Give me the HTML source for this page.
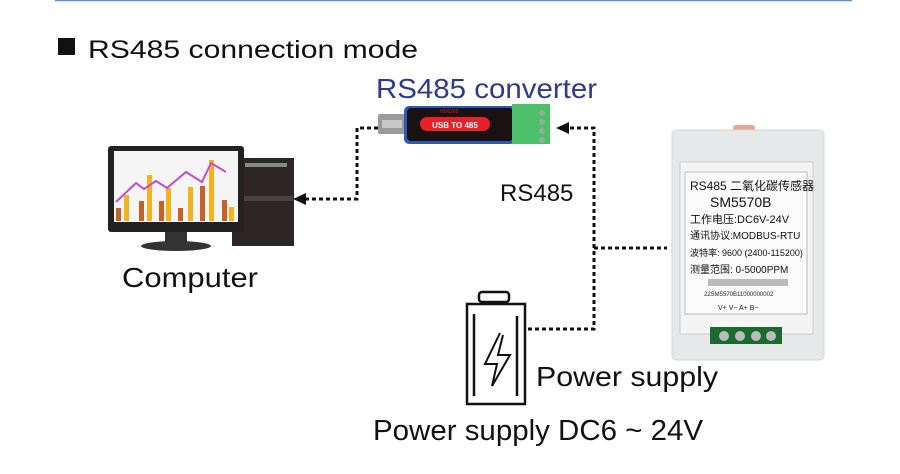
<!DOCTYPE html>
<html><head><meta charset="utf-8"><style>
html,body{margin:0;padding:0;background:#fff;width:900px;height:474px;overflow:hidden}
svg{display:block}
text{font-family:"Liberation Sans","Noto Sans CJK SC",sans-serif}
</style></head><body>
<svg width="900" height="474" viewBox="0 0 900 474" xmlns="http://www.w3.org/2000/svg">
<line x1="55" y1="0.5" x2="852" y2="0.5" stroke="#5b8fd6" stroke-width="1.5"/>
<rect x="58" y="38" width="17" height="17" fill="#111"/>
<text x="88" y="58" font-size="25" fill="#111" textLength="330" lengthAdjust="spacingAndGlyphs">RS485 connection mode</text>
<text x="376" y="98" font-size="28" fill="#2e3a8c" textLength="221" lengthAdjust="spacingAndGlyphs">RS485 converter</text>

<!-- converter -->
<rect x="378" y="114" width="28" height="20" fill="#9a9a9a" rx="2"/>
<rect x="382" y="120" width="20" height="8" fill="#c8c8c8"/>
<rect x="404" y="106" width="112" height="38" rx="5" fill="#2a5ab8"/>
<rect x="407" y="108" width="106" height="33" rx="4" fill="#1a1212"/>
<rect x="420" y="117" width="70" height="14" rx="7" fill="#e8202a"/>
<text x="455" y="128" font-size="8" fill="#fff" font-weight="bold" text-anchor="middle">USB TO 485</text>
<text x="440" y="113" font-size="5" fill="#d02020">HD6205</text>
<rect x="512" y="104" width="38" height="40" fill="#4cbf6b"/>
<circle cx="542" cy="113" r="3" fill="#9a9"/><circle cx="542" cy="122" r="3" fill="#9a9"/><circle cx="542" cy="131" r="3" fill="#9a9"/><circle cx="542" cy="140" r="3" fill="#9a9"/>

<!-- connectors -->
<g stroke="#111" stroke-width="3" stroke-dasharray="4,3" fill="none">
<polyline points="378,128 357,128 357,199 305,199"/>
<polyline points="570,128 594,128 594,329 526,329"/>
<line x1="594" y1="248" x2="667" y2="248"/>
</g>
<polygon points="293,199 306,193 306,205" fill="#111"/>
<polygon points="556,128 569,122 569,134" fill="#111"/>
<text x="500" y="201" font-size="24" fill="#111">RS485</text>

<!-- computer -->
<rect x="232" y="158" width="62" height="88" fill="#2c2626"/>
<rect x="245" y="163" width="42" height="4" fill="#888"/>
<rect x="233" y="196" width="60" height="5" fill="#4a4242"/>
<rect x="108" y="146" width="136" height="86" rx="3" fill="#222"/>
<rect x="114" y="151" width="124" height="71" fill="#f5f5f5"/>
<g fill="#c8602a"><rect x="116" y="208" width="5" height="13"/><rect x="139" y="201" width="5" height="20"/><rect x="159" y="201" width="5" height="20"/><rect x="178" y="208" width="5" height="13"/><rect x="200" y="186" width="5" height="35"/><rect x="222" y="200" width="5" height="21"/></g>
<g fill="#f6b21a"><rect x="124" y="195" width="5" height="26"/><rect x="147" y="175" width="5" height="46"/><rect x="166" y="188" width="5" height="33"/><rect x="188" y="187" width="5" height="34"/><rect x="209" y="160" width="5" height="61"/><rect x="229" y="207" width="5" height="14"/></g>
<polyline points="116,202 136,183 144,189 156,181 167,188 186,172 202,182 211,163 226,172" stroke="#c24ad8" stroke-width="2" fill="none"/>
<rect x="165" y="232" width="22" height="12" fill="#333"/>
<ellipse cx="176" cy="246" rx="35" ry="5" fill="#333"/>
<text x="122" y="287" font-size="28" fill="#111" textLength="136" lengthAdjust="spacingAndGlyphs">Computer</text>

<!-- sensor -->
<rect x="733" y="125" width="22" height="8" rx="3" fill="#f0a090"/>
<rect x="672" y="130" width="152" height="230" rx="4" fill="#e6e8ea" stroke="#d4d6d8"/>
<rect x="680" y="162" width="133" height="172" fill="#f4f4f4" stroke="#ccc"/>
<rect x="685" y="172" width="122" height="142" fill="#fbfbfb" stroke="#bbb"/>
<g fill="#111" font-size="11">
<text x="690" y="190" font-size="12">RS485 二氧化碳传感器</text>
<text x="710" y="207" font-size="14">SM5570B</text>
<text x="690" y="223">工作电压:DC6V-24V</text>
<text x="690" y="239" font-size="10">通讯协议:MODBUS-RTU</text>
<text x="690" y="256" font-size="9">波特率: 9600 (2400-115200)</text>
<text x="690" y="273" font-size="10">测量范围: 0-5000PPM</text>
</g>
<rect x="708" y="279" width="80" height="7" fill="#bbb"/>
<text x="704" y="296" font-size="6" fill="#222">22SM5570B11000000002</text>
<text x="718" y="310" font-size="7" fill="#222">V+ V−  A+  B−</text>
<rect x="710" y="327" width="72" height="17" fill="#1c6b2e"/>
<circle cx="724" cy="336" r="5" fill="#bbb"/><circle cx="740" cy="336" r="5" fill="#bbb"/><circle cx="756" cy="336" r="5" fill="#bbb"/><circle cx="771" cy="336" r="5" fill="#bbb"/>

<!-- battery -->
<g stroke="#111" stroke-width="2.5" fill="none">
<rect x="479" y="292" width="30" height="10" rx="3"/>
<rect x="467" y="304" width="58" height="100"/>
<line x1="474" y1="314" x2="474" y2="396"/>
<line x1="517" y1="316" x2="517" y2="396"/>
<polyline points="500,333 485,364 497,364 492,386 510,355 498,355 503,335" stroke-width="2"/>
</g>
<text x="536" y="386" font-size="28" fill="#111" textLength="182" lengthAdjust="spacingAndGlyphs">Power supply</text>
<text x="373" y="440" font-size="29" fill="#111" textLength="330" lengthAdjust="spacingAndGlyphs">Power supply DC6 ~ 24V</text>
</svg>
</body></html>
